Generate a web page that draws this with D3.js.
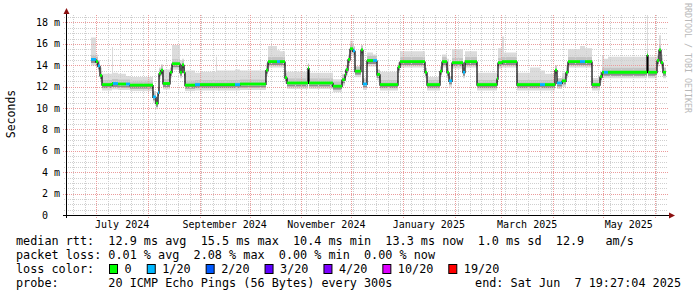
<!DOCTYPE html>
<html>
<head>
<meta charset="utf-8">
<script src="https://cdn.jsdelivr.net/npm/d3@7"></script>
<style>
body { margin: 0; background: #fff; }
text { font-family: "DejaVu Sans Mono", monospace; }
</style>
</head>
<body>
<div id="chart"></div>
<script>
// median rtt per step (ms), start of each step, top of the smoke and loss class
segStart = ["2024-06-27T19","2024-06-30T19","2024-07-02T00","2024-07-03T05","2024-07-04T10","2024-07-10T10","2024-07-11T00","2024-07-14T00","2024-07-18T19","2024-07-21T05",
    "2024-08-04T00","2024-08-05T19","2024-08-07T00","2024-08-07T15","2024-08-08T19","2024-08-10T00","2024-08-14T05","2024-08-15T10","2024-08-20T05","2024-08-21T10",
    "2024-08-22T15","2024-08-23T05","2024-08-29T05","2024-09-01T05","2024-09-10T19","2024-09-11T10","2024-09-22T05","2024-09-25T05","2024-10-10T19","2024-10-12T00",
    "2024-10-17T10","2024-10-19T05","2024-10-22T05","2024-10-23T10","2024-11-05T00","2024-11-05T15","2024-11-20T00","2024-11-25T10","2024-11-27T05","2024-11-27T19",
    "2024-11-29T00","2024-11-30T05","2024-12-02T00","2024-12-03T05","2024-12-06T19","2024-12-08T00","2024-12-10T10","2024-12-14T00","2024-12-16T10","2024-12-18T05",
    "2024-12-29T00","2024-12-30T05","2025-01-14T05","2025-01-15T10","2025-01-23T05","2025-01-24T10","2025-01-27T10","2025-01-28T15","2025-01-30T10","2025-02-06T00",
    "2025-02-07T05","2025-02-14T10","2025-02-26T10","2025-02-27T00","2025-03-01T10","2025-03-02T15","2025-03-10T10","2025-03-18T05","2025-03-24T05","2025-03-27T05",
    "2025-04-02T05","2025-04-03T10","2025-04-06T10","2025-04-08T19","2025-04-10T00","2025-04-17T05","2025-04-20T05","2025-04-24T10","2025-04-29T05","2025-04-30T10",
    "2025-05-01T15","2025-05-04T00","2025-05-27T10","2025-05-28T00","2025-06-02T10","2025-06-03T15","2025-06-04T19","2025-06-06T00"]
medianRtt = [14.5,14.3,13.9,13.0,12.15,12.25,12.25,12.2,12.2,12.1,
    11.0,10.4,11.4,13.2,13.5,12.25,13.3,14.1,13.3,14.0,
    13.3,12.1,12.15,12.15,12.15,12.15,12.15,12.2,13.5,14.3,
    14.3,14.3,12.8,12.3,13.7,12.3,12.0,12.6,13.1,13.55,
    14.5,15.5,15.3,13.4,15.4,12.2,14.4,14.4,13.1,12.15,
    13.8,14.3,13.3,12.15,13.4,14.3,13.3,12.5,14.2,13.3,
    14.3,12.15,12.7,14.2,14.3,14.3,12.15,12.15,12.15,12.15,
    13.5,12.3,12.5,13.3,14.3,14.3,14.3,12.15,12.9,13.3,
    13.3,13.3,14.9,13.3,14.4,15.4,14.2,13.3]
smokeTop = [16.6,15.0,14.5,13.8,13.2,15.7,13.3,13.2,13.0,12.9,
    11.6,11.0,12.0,13.8,14.1,13.6,13.8,15.9,14.5,14.6,
    13.8,13.5,13.3,13.4,14.8,13.5,13.6,13.5,14.2,15.8,
    15.4,15.3,13.5,13.4,14.0,13.3,12.7,13.2,13.7,14.0,
    15.0,16.3,15.7,13.9,15.8,12.8,15.2,15.0,13.6,13.4,
    14.2,15.3,13.7,12.9,13.9,15.0,14.6,13.0,15.5,13.8,
    15.3,13.3,13.2,15.6,16.7,15.2,13.3,13.8,13.5,13.2,
    14.0,12.8,13.3,14.0,15.5,15.8,15.6,12.8,13.4,14.9,
    14.6,14.8,18.7,14.8,15.0,16.8,15.0,13.8]
lossIdx = [1,0,1,0,0,0,1,0,1,0,
    1,0,1,0,0,0,0,0,0,0,
    0,0,1,0,0,0,1,0,0,0,
    1,0,0,0,0,0,0,0,0,0,
    0,0,1,0,0,1,0,1,0,0,
    0,0,0,0,0,0,0,1,0,1,
    0,0,0,0,0,0,0,0,1,0,
    0,1,0,0,0,1,0,0,0,0,
    1,0,0,0,0,0,0,0]
endTime = "2025-06-07T19:27:04"

yTicks = [2, 4, 6, 8, 10, 12, 14, 16, 18]
yTickLabels = ["0  ", "2 m", "4 m", "6 m", "8 m", "10 m", "12 m", "14 m", "16 m", "18 m"]
xLabelMonths = ["2024-07", "2024-09", "2024-11", "2025-01", "2025-03", "2025-05"]
xTickLabels = ["July 2024", "September 2024", "November 2024", "January 2025", "March 2025", "May 2025"]

lossLabels = ["0", "1/20", "2/20", "3/20", "4/20", "10/20", "19/20"]
lossColors = ["#00ff00", "#00b8ff", "#0059ff", "#5e00ff", "#7e00ff", "#dd00ff", "#ff0000"]

legendLines = [
    "median rtt:  12.9 ms avg  15.5 ms max  10.4 ms min  13.3 ms now  1.0 ms sd  12.9   am/s",
    "packet loss: 0.01 % avg  2.08 % max  0.00 % min  0.00 % now",
    "loss color:",
    "probe:       20 ICMP Echo Pings (56 Bytes) every 300s"
]
endLabel = "end: Sat Jun  7 19:27:04 2025"

let svg, xScale, yScale;

document.addEventListener('DOMContentLoaded', function () {
    drawChart();
});

function levelBand(rowsIn, nextRows, color, width, shift) {
    // horizontal pieces only, so step edges stay thin
    svg.append("g").selectAll("line")
        .data(rowsIn)
        .enter().append("line")
        .attr("x1", d => xScale(d.t))
        .attr("x2", (d, i) => xScale(nextRows[i + 1].t))
        .attr("y1", d => yScale(d.med) + shift)
        .attr("y2", d => yScale(d.med) + shift)
        .attr("stroke", typeof color === "function" ? null : color)
        .attr("stroke-width", width)
        .each(function (d) {
            if (typeof color === "function") d3.select(this).attr("stroke", color(d));
        });
}

function drawChart() {
    margin = { left: 66, top: 15, right: 666, bottom: 215 };

    svg = d3.select("#chart")
        .append("svg")
        .attr("width", 697)
        .attr("height", 297)
        .style("display", "block");

    svg.append("rect").attr("width", 697).attr("height", 297).attr("fill", "#ffffff");

    const parseT = d3.utcParse("%Y-%m-%dT%H");
    const tEnd = d3.utcParse("%Y-%m-%dT%H:%M:%S")(endTime);
    const tStart = d3.utcDay.offset(tEnd, -360);

    xScale = d3.scaleUtc()
        .domain([tStart, tEnd])
        .range([margin.left, margin.right]);

    yScale = d3.scaleLinear()
        .domain([0, 18.7])
        .range([margin.bottom, margin.top]);

    rows = segStart.map((s, i) => ({ t: parseT(s), med: medianRtt[i], top: smokeTop[i], loss: lossIdx[i] }));
    stepRows = rows.concat([Object.assign({}, rows[rows.length - 1], { t: tEnd })]);

    const medLine = d3.line()
        .curve(d3.curveStepAfter)
        .x(d => xScale(d.t))
        .y(d => yScale(d.med));

    // smoke
    levelBand(rows, stepRows, "#dcdcdc", 5, 3);

    svg.append("path")
        .datum(stepRows)
        .attr("fill", "#dcdcdc")
        .attr("d", d3.area()
            .curve(d3.curveStepAfter)
            .x(d => xScale(d.t))
            .y0(d => yScale(d.med))
            .y1(d => yScale(d.top)));

    levelBand(rows, stepRows, "#c4c4c4", 4, -3);
    levelBand(rows, stepRows, "#8e8e8e", 2, 2);

    // grid
    const grid = svg.append("g").attr("stroke-dasharray", "1,1").attr("stroke-width", 1);
    const minorY = d3.range(0.5, 18.7, 0.5).filter(v => v % 2 !== 0);
    grid.selectAll(".minor-y")
        .data(minorY)
        .enter().append("line")
        .attr("x1", margin.left - 2).attr("x2", margin.right + 2)
        .attr("y1", d => Math.round(yScale(d)) + 0.5).attr("y2", d => Math.round(yScale(d)) + 0.5)
        .attr("stroke", "#cfcfcf");

    const months = d3.utcMonth.range(tStart, tEnd);
    const weeks = d3.utcMonday.range(tStart, tEnd).filter(w => w.getUTCDate() !== 1);
    grid.selectAll(".minor-x")
        .data(weeks)
        .enter().append("line")
        .attr("x1", d => Math.round(xScale(d)) + 0.5).attr("x2", d => Math.round(xScale(d)) + 0.5)
        .attr("y1", margin.top).attr("y2", margin.bottom + 2)
        .attr("stroke", "#cfcfcf");

    grid.selectAll(".major-y")
        .data(yTicks)
        .enter().append("line")
        .attr("x1", margin.left - 3).attr("x2", margin.right + 2)
        .attr("y1", d => Math.round(yScale(d)) + 0.5).attr("y2", d => Math.round(yScale(d)) + 0.5)
        .attr("stroke", "#eb9c9c");

    grid.selectAll(".major-x")
        .data(months)
        .enter().append("line")
        .attr("x1", d => Math.round(xScale(d)) + 0.5).attr("x2", d => Math.round(xScale(d)) + 0.5)
        .attr("y1", margin.top).attr("y2", margin.bottom + 3)
        .attr("stroke", "#eb9c9c");

    // median line, black steps then loss coloured level pieces
    svg.append("path")
        .datum(stepRows)
        .attr("fill", "none")
        .attr("stroke", "#000000")
        .attr("stroke-width", 1.2)
        .attr("d", medLine);

    levelBand(rows, stepRows, d => lossColors[d.loss], 2.8, -0.5);

    // axes
    svg.append("line")
        .attr("x1", margin.left - 3).attr("x2", 670)
        .attr("y1", margin.bottom + 0.5).attr("y2", margin.bottom + 0.5)
        .attr("stroke", "#000000");
    svg.append("line")
        .attr("x1", margin.left + 0.5).attr("x2", margin.left + 0.5)
        .attr("y1", margin.bottom + 3).attr("y2", 11)
        .attr("stroke", "#000000");
    svg.append("path")
        .attr("d", `M${669},${margin.bottom - 2.5}L${675},${margin.bottom + 0.5}L${669},${margin.bottom + 3.5}Z`)
        .attr("fill", "#8b1010");
    svg.append("path")
        .attr("d", `M${margin.left - 2.5},${14}L${margin.left + 0.5},${8}L${margin.left + 3.5},${14}Z`)
        .attr("fill", "#8b1010");

    // tick labels
    svg.selectAll(".ylab")
        .data([0].concat(yTicks))
        .enter().append("text")
        .attr("x", 60)
        .attr("y", d => yScale(d))
        .attr("dy", "0.35em")
        .style("text-anchor", "end")
        .style("white-space", "pre")
        .style("font-size", "10px")
        .attr("fill", "#000")
        .text((d, i) => yTickLabels[i]);

    svg.selectAll(".xlab")
        .data(xLabelMonths)
        .enter().append("text")
        .attr("x", d => {
            const m = d3.utcParse("%Y-%m")(d);
            return (xScale(m) + xScale(d3.utcMonth.offset(m, 1))) / 2;
        })
        .attr("y", 228)
        .style("text-anchor", "middle")
        .style("font-size", "10px")
        .attr("fill", "#000")
        .text((d, i) => xTickLabels[i]);

    svg.append("text")
        .attr("transform", "translate(15,114) rotate(-90)")
        .style("text-anchor", "middle")
        .style("font-size", "11.5px")
        .attr("fill", "#000")
        .text("Seconds");

    svg.append("text")
        .attr("transform", "translate(685,3) rotate(90)")
        .style("font-size", "8.3px")
        .attr("fill", "#b8b8b8")
        .text("RRDTOOL / TOBI OETIKER");

    // legend
    const lineY = [245, 259, 273, 287];
    svg.selectAll(".legend-line")
        .data(legendLines)
        .enter().append("text")
        .attr("x", 16)
        .attr("y", (d, i) => lineY[i])
        .style("white-space", "pre")
        .style("font-size", "11.8px")
        .attr("fill", "#000")
        .text(d => d);

    svg.append("text")
        .attr("x", 681)
        .attr("y", lineY[3])
        .style("text-anchor", "end")
        .style("white-space", "pre")
        .style("font-size", "11.8px")
        .attr("fill", "#000")
        .text(endLabel);

    const charW = 7.05;
    let cursor = 109;
    lossLabels.forEach(function (lab, i) {
        svg.append("rect")
            .attr("x", cursor + 0.5)
            .attr("y", 264.5)
            .attr("width", 8)
            .attr("height", 9)
            .attr("fill", lossColors[i])
            .attr("stroke", "#000")
            .attr("stroke-width", 1);
        svg.append("text")
            .attr("x", cursor + 15.5)
            .attr("y", lineY[2])
            .style("font-size", "11.8px")
            .attr("fill", "#000")
            .text(lab);
        cursor += 30.7 + lab.length * charW;
    });
}
</script>
</body>
</html>
